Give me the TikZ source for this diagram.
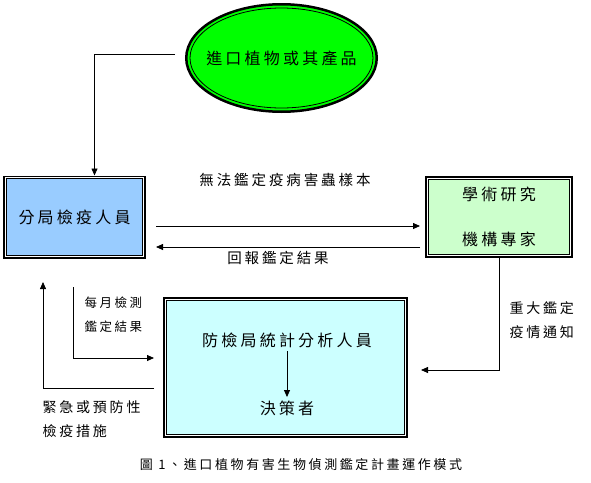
\documentclass[tikz,border=0pt]{standalone}
\usepackage{fontspec}
\newfontfamily\tcfont[LetterSpace=20]{Noto Sans CJK TC}
\usetikzlibrary{shapes.geometric,arrows.meta}
\definecolor{brightgreen}{HTML}{00FF00}
\definecolor{paleblue}{HTML}{99CCFF}
\definecolor{palegreen}{HTML}{CCFFCC}
\definecolor{palecyan}{HTML}{CCFFFF}
% thin inner line of a framed box
\newcommand{\inframe}[1]{%
  \draw[white,line width=1pt] ([shift={(2.2pt,-2.2pt)}]#1.north west) rectangle ([shift={(-2.2pt,2.2pt)}]#1.south east);
  \draw[line width=.8pt] ([shift={(3.2pt,-3.2pt)}]#1.north west) rectangle ([shift={(-3.2pt,3.2pt)}]#1.south east);}

\begin{document}
\begin{tikzpicture}[x=1pt,y=-1pt,>={Triangle[length=7pt,width=6pt]},
    frame/.style={draw,line width=3pt,fill=#1,inner sep=0pt},
    big/.style={font=\tcfont\fontsize{16}{20}\selectfont},
    small/.style={font=\tcfont\fontsize{14}{24}\selectfont,align=left},
    conn/.style={->,line width=.8pt}]
  \useasboundingbox (0,0) rectangle (591,482);
  % source
  \node[ellipse,draw,line width=2.5pt,fill=brightgreen,minimum width=190.5pt,minimum height=107.5pt,inner sep=0pt] (plant) at (281.5,58) {};
  \draw[line width=.8pt] (plant.center) ellipse [x radius=91.5, y radius=50];
  \node[big] (plantname) at (plant.center) {進口植物或其產品};
  % boxes
  \node[frame=paleblue,minimum width=140pt,minimum height=80pt,big] (branch) at (74.5,217) {分局檢疫人員};
  \inframe{branch}
  \node[frame=palegreen,minimum width=145pt,minimum height=79pt,big,align=center] (expert) at (499,217) {學術研究\\[25pt]機構專家};
  \inframe{expert}
  \node[frame=palecyan,minimum width=242pt,minimum height=138pt] (stats) at (285.5,367.5) {};
  \inframe{stats}
  \node[big] (analyst) at (287,340) {防檢局統計分析人員};
  \node[big] (decider) at (287,408) {決策者};
  \draw[conn] (analyst.south) -- (decider.north);
  % connectors
  \draw[conn] ([xshift=-10pt,yshift=4pt]plant.west) -| ([xshift=20pt]branch.north);
  \draw[conn] ([xshift=10pt,yshift=-9pt]branch.east) -- ([xshift=-5pt,yshift=-9pt]expert.west);
  \draw[conn] ([xshift=-5pt,yshift=-30pt]expert.west) -- ([xshift=10pt,yshift=-30pt]branch.east);
  \draw[conn] (expert.south) |- ([xshift=13pt,yshift=-2.5pt]stats.east);
  \draw[conn] ([xshift=-9pt,yshift=-20.5pt]stats.west) -| ([xshift=-31.5pt,yshift=-23.5pt]branch.south);
  \draw[conn] ([xshift=-1.5pt,yshift=-28.5pt]branch.south) |- ([xshift=-9pt,yshift=9.5pt]stats.west);
  % labels
  \node[small,font=\tcfont\fontsize{14.5}{24}\selectfont] (ask) at (285,180) {無法鑑定疫病害蟲樣本};
  \node[small,font=\tcfont\fontsize{14.5}{24}\selectfont] (reply) at (278,258) {回報鑑定結果};
  \node[small,anchor=west] (notice) at (506,320) {重大鑑定\\疫情通知};
  \node[small,anchor=west,font=\tcfont\fontsize{12.5}{24}\selectfont] (monthly) at (81,315) {每月檢測\\鑑定結果};
  \node[small,anchor=west] (urgent) at (39,419) {緊急或預防性\\檢疫措施};
  \node[small,font=\tcfont\fontsize{13}{15}\selectfont] (caption) at (301,465) {圖 1、進口植物有害生物偵測鑑定計畫運作模式};
\end{tikzpicture}
\end{document}
